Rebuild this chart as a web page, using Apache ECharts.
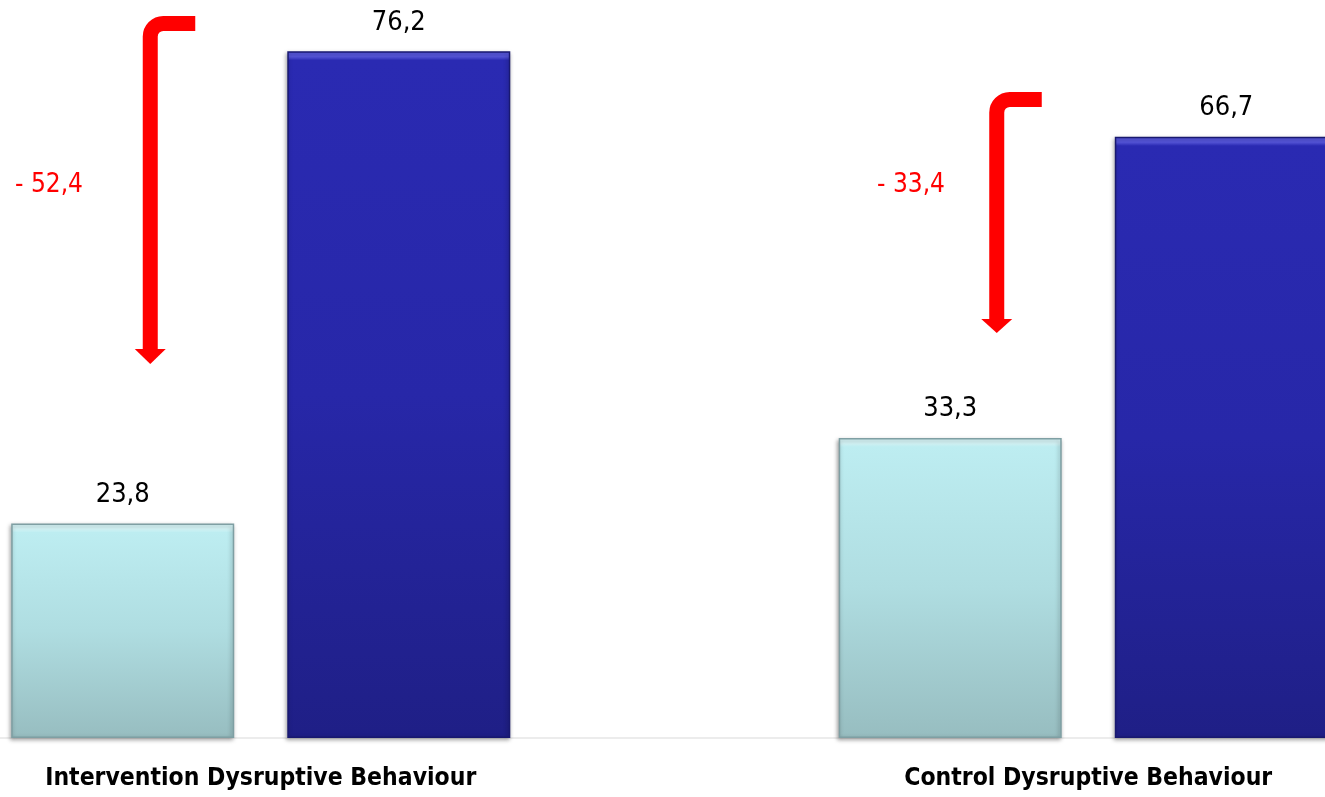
<!DOCTYPE html>
<html>
<head>
<meta charset="utf-8">
<style>
  html, body { margin: 0; padding: 0; background: #ffffff; }
  #chart { width: 1325px; height: 797px; }
</style>
<script src="https://cdn.jsdelivr.net/npm/echarts@6/dist/echarts.min.js"></script>
</head>
<body>
<div id="chart"></div>
<script>
// Groups on the category axis
const categories = ['Intervention Dysruptive Behaviour', 'Control Dysruptive Behaviour'];
// Light (left) and dark (right) bar of each group
const lightValues = [23.8, 33.3];
const darkValues = [76.2, 66.7];

const FONT = '"Liberation Sans Narrow", "Arial Narrow", "DejaVu Sans Condensed", sans-serif';

function fmt(v) {
  return v.toFixed(1).replace('.', ',');
}

// Change from the dark bar to the light bar, shown by the red arrows
const drops = categories.map((c, i) => [i, lightValues[i] - darkValues[i]]);

// Arrow drawing layout per group (pixels relative to the group centre / canvas)
const arrowLayout = [
  { dx: -110.5, yTop: 16, headTop: 349, tip: 364, armEnd: -65.5, textX: 83, textY: 185 },
  { dx: -91.5, yTop: 92, headTop: 319, tip: 333, armEnd: -46.5, textX: 945, textY: 185 }
];

const Y_MAX = 80;
const GRID = { top: 17, bottom: 59 };
const CHART_H = 797;

const chart = echarts.init(document.getElementById('chart'), null, { renderer: 'canvas' });

// Vertical gradient with a lighter bevel strip of fixed pixel height along the top edge
function bevelFill(highlight, top, mid, bottom) {
  const pxPerUnit = (CHART_H - GRID.top - GRID.bottom) / Y_MAX;
  return function (p) {
    const h = Math.max(1, p.value * pxPerUnit);
    const s = Math.min(0.2, 9 / h);
    return {
      type: 'linear', x: 0, y: 0, x2: 0, y2: 1,
      colorStops: [
        { offset: 0, color: highlight },
        { offset: s * 0.6, color: highlight },
        { offset: s, color: top },
        { offset: 0.5, color: mid },
        { offset: 1, color: bottom }
      ]
    };
  };
}

function barStyle(fill, edge) {
  return {
    color: fill,
    borderColor: edge,
    borderWidth: 1.5,
    shadowColor: 'rgba(0,0,0,0.35)',
    shadowBlur: 4,
    shadowOffsetX: -1,
    shadowOffsetY: 2
  };
}

const valueLabel = {
  show: true,
  position: 'top',
  distance: 15,
  formatter: p => fmt(p.value),
  color: '#000000',
  fontFamily: FONT,
  fontSize: 27,
  fontWeight: 'normal'
};

chart.setOption({
  backgroundColor: '#ffffff',
  animation: false,
  grid: {
    left: -153, right: -177, top: GRID.top, bottom: GRID.bottom,
    containLabel: false,
    outerBoundsMode: 'none'
  },
  xAxis: {
    type: 'category',
    data: categories,
    axisLine: { show: true, lineStyle: { color: '#ececec', width: 2 } },
    axisTick: { show: false },
    axisLabel: {
      interval: 0,
      color: '#000000',
      fontFamily: FONT,
      fontSize: 24.5,
      fontWeight: 'bold',
      margin: 28
    }
  },
  yAxis: {
    type: 'value',
    min: 0,
    max: Y_MAX,
    show: false,
    splitLine: { show: false }
  },
  series: [
    {
      name: 'light',
      type: 'bar',
      data: lightValues,
      barWidth: 223,
      barGap: '23.8%',
      itemStyle: barStyle(bevelFill('#d8f8fa', '#bdedf1', '#afdde1', '#97bdc0'), '#7f9fa3'),
      label: valueLabel
    },
    {
      name: 'dark',
      type: 'bar',
      data: darkValues,
      barWidth: 223,
      itemStyle: barStyle(bevelFill('#5656dc', '#2a2ab2', '#2727a8', '#1f1f86'), '#191970'),
      label: valueLabel
    },
    {
      name: 'drop',
      type: 'custom',
      data: drops,
      clip: false,
      z: 10,
      renderItem: function (params, api) {
        const i = api.value(0);
        const L = arrowLayout[i];
        const c = api.coord([i, 0]);
        const xv = c[0] + L.dx;           // vertical stroke centre
        const xe = c[0] + L.armEnd;       // end of horizontal arm
        const hw = 7.5;                   // half stroke width
        const yc = L.yTop + hw;           // horizontal stroke centre
        const r = 13;                     // bend radius (centre line)
        const k = 0.55 * r;
        const path =
          'M' + xe + ' ' + yc +
          ' L' + (xv + r) + ' ' + yc +
          ' C' + (xv + r - k) + ' ' + yc + ' ' + xv + ' ' + (yc + r - k) + ' ' + xv + ' ' + (yc + r) +
          ' L' + xv + ' ' + (L.headTop + 1);
        return {
          type: 'group',
          children: [
            {
              type: 'path',
              shape: { pathData: path },
              style: { fill: null, stroke: '#ff0000', lineWidth: 15 }
            },
            {
              type: 'polygon',
              shape: {
                points: [
                  [xv - 15.5, L.headTop],
                  [xv + 15.5, L.headTop],
                  [xv, L.tip]
                ]
              },
              style: { fill: '#ff0000' }
            },
            {
              type: 'text',
              style: {
                x: L.textX,
                y: L.textY,
                text: '- ' + fmt(Math.abs(api.value(1))),
                fill: '#ff0000',
                font: 'normal 26px ' + FONT,
                align: 'right',
                verticalAlign: 'middle'
              }
            }
          ]
        };
      }
    }
  ]
});
</script>
</body>
</html>
